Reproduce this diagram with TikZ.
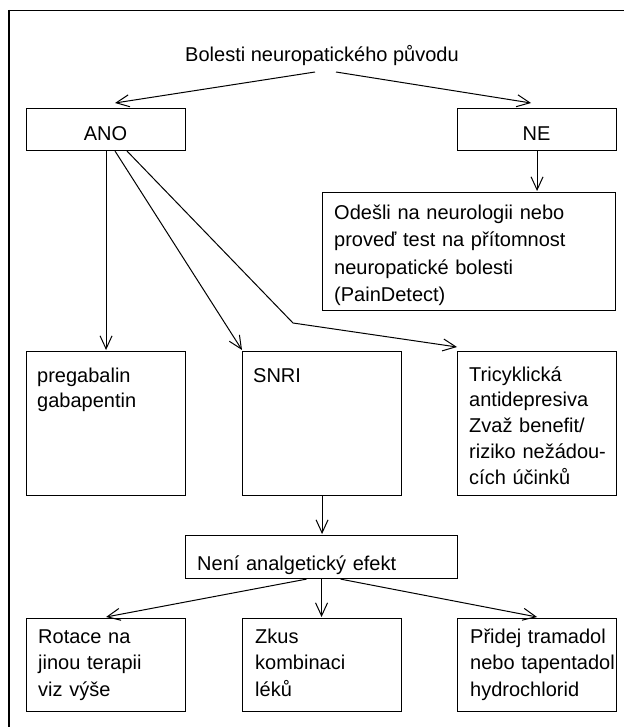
\documentclass[tikz,border=0pt]{standalone}
\usepackage{fontspec}
\setmainfont{Liberation Sans}
\usetikzlibrary{arrows.meta}
\begin{document}
\begin{tikzpicture}[x=1pt,y=-1pt,
  box/.style={draw, line width=1.1pt, rectangle, inner sep=0pt, anchor=north west},
  txt/.style={font=\fontsize{20}{25.8}\selectfont, inner sep=0pt, align=left, text width=155pt, anchor=base west},
  lbl/.style={font=\fontsize{20}{24}\selectfont, inner sep=0pt, anchor=base},
  arr/.style={line width=1pt, -{Straight Barb[length=13pt,width=12pt,line width=1pt]}},
  conn/.style={line width=1pt},
  frame/.style={line width=1.1pt}]
\useasboundingbox (0,0) rectangle (624,727);
% outer frame (top and left edge only)
\draw[frame, line width=1.8pt] (9,10.5) -- (624,10.5);
\draw[frame] (9,10) -- (9,727);

% boxes
\node[box, minimum width=159pt, minimum height=42pt] (ano) at (26,108) {};
\node[box, minimum width=159pt, minimum height=42pt] (ne) at (457,108) {};
\node[box, minimum width=293pt, minimum height=118pt] (ode) at (322,192) {};
\node[box, minimum width=159pt, minimum height=144pt] (preg) at (26,351) {};
\node[box, minimum width=159pt, minimum height=144pt] (snri) at (242,351) {};
\node[box, minimum width=159pt, minimum height=144pt] (tca) at (457,351) {};
\node[box, minimum width=272pt, minimum height=43pt] (neni) at (185,535) {};
\node[box, minimum width=159pt, minimum height=93pt] (rot) at (26,618) {};
\node[box, minimum width=159pt, minimum height=93pt] (zkus) at (242,618) {};
\node[box, minimum width=159pt, minimum height=93pt] (prid) at (457,618) {};

% texts
\node[lbl] (title) at (322,62) {Bolesti neuropatického původu};
\node[lbl] (anot) at (105.5,141) {ANO};
\node[lbl] (net) at (536.5,141) {NE};
\node[txt, text width=275pt, font=\fontsize{20}{27.6}\selectfont] (odet) at (334,219)
  {Odešli na neurologii nebo\\proveď test na přítomnost\\neuropatické bolesti\\(PainDetect)};
\node[txt] (pregt) at (37,382) {pregabalin\\gabapentin};
\node[txt] (snrit) at (253,382) {SNRI};
\node[txt] (tcat) at (469,381) {Tricyklická\\antidepresiva\\Zvaž benefit/\\riziko nežádou-\\cích účinků};
\node[txt, text width=255pt] (nenit) at (197,570) {Není analgetický efekt};
\node[txt, font=\fontsize{20}{26.5}\selectfont] (rott) at (38,643) {Rotace na\\jinou terapii\\viz výše};
\node[txt, font=\fontsize{20}{26.5}\selectfont] (zkust) at (255,643) {Zkus\\kombinaci\\léků};
\node[txt, font=\fontsize{20}{26.5}\selectfont] (pridt) at (470,643) {Přidej tramadol\\nebo tapentadol\\hydrochlorid};

% connectors
\draw[arr] ([xshift=-7pt,yshift=-10pt]title.base) -- ([xshift=9pt,yshift=5pt]ano.north);
\draw[arr] ([xshift=14pt,yshift=-10pt]title.base) -- ([xshift=-6pt,yshift=5pt]ne.north);
\draw[arr] (ne.south) -- ([yshift=1pt]ne.south |- ode.north);
\draw[arr] (ano.south) -- ([yshift=1pt]ano.south |- preg.north);
\draw[arr] ([xshift=9pt]ano.south) -- ([yshift=1pt]snri.north west);
\coordinate (bend) at (293,323);
\draw[arr] ([xshift=21pt]ano.south) -- (bend) -- ([yshift=4pt]tca.north west);
\draw[arr] (snri.south) -- ([yshift=1pt]snri.south |- neni.north);
\draw[arr] ([xshift=-15pt]neni.south) -- ([yshift=1pt]rot.north);
\draw[arr] (neni.south) -- ([yshift=1pt]neni.south |- zkus.north);
\draw[arr] ([xshift=19pt]neni.south) -- ([yshift=1pt]prid.north);
\end{tikzpicture}
\end{document}
